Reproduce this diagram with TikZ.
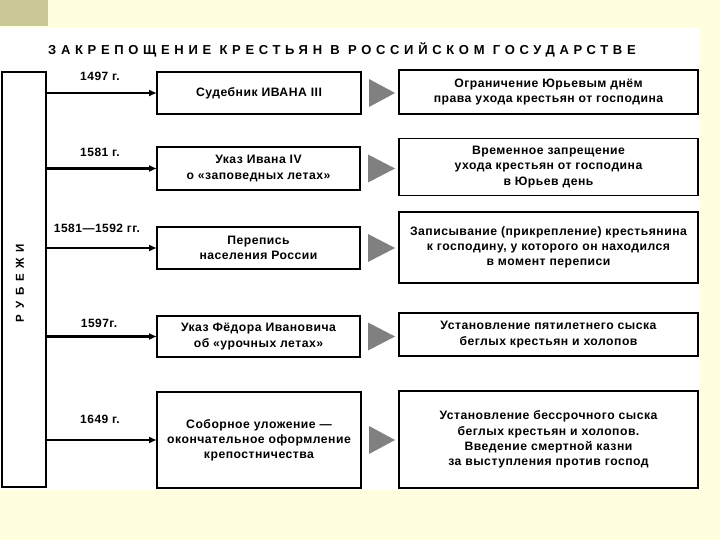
\documentclass[tikz,border=0pt]{standalone}
\usepackage{fontspec}
\setmainfont{Liberation Sans}
\newfontfamily\boxfont{Liberation Sans}[LetterSpace=4]
\newfontfamily\titlefont{Liberation Sans}[LetterSpace=36]
\newfontfamily\rubfont{Liberation Sans}[LetterSpace=50]
\usetikzlibrary{arrows.meta,calc}
\definecolor{bgyellow}{RGB}{255,255,224}
\definecolor{sqolive}{RGB}{201,200,150}
\definecolor{trigray}{RGB}{128,128,128}
\tikzset{
  box/.style={draw, line width=1.8pt, outer sep=0pt, inner sep=0pt, align=center, fill=white,
    font=\boxfont\bfseries\fontsize{12.2}{15.2}\selectfont},
  year/.style={font=\boxfont\bfseries\fontsize{12}{14}\selectfont, inner sep=0pt},
  arr/.style={line width=2.6pt, -{Latex[length=8pt,width=7pt]}},
  tri/.style={fill=trigray, draw=none}
}
\begin{document}
\begin{tikzpicture}[x=1pt,y=-1pt]
\useasboundingbox (0,0) rectangle (720,540);
\fill[bgyellow] (0,0) rectangle (720,540);
\fill[sqolive] (0,0) rectangle (48,26);
\fill[white] (0,28) rectangle (700,490);

\node[anchor=west, inner sep=0pt, font=\titlefont\bfseries\fontsize{13}{15}\selectfont] (title) at (48,50) {ЗАКРЕПОЩЕНИЕ КРЕСТЬЯН В РОССИЙСКОМ ГОСУДАРСТВЕ};

\node[box, minimum width=44, minimum height=415] (lb) at (24,279.5) {};
\node[rotate=90, inner sep=0pt, font=\rubfont\bfseries\fontsize{11.5}{13}\selectfont] (rub) at (20,283) {РУБЕЖИ};

% middle boxes
\node[box, minimum width=204, minimum height=42] (m1) at (259,93) {Судебник ИВАНА III};
\node[box, minimum width=203, minimum height=43] (m2) at (258.5,168.5) {Указ Ивана IV\\о «заповедных летах»};
\node[box, minimum width=203, minimum height=42] (m3) at (258.5,248) {Перепись\\населения России};
\node[box, minimum width=203, minimum height=41] (m4) at (258.5,336.5) {Указ Фёдора Ивановича\\об «урочных летах»};
\node[box, minimum width=204, minimum height=96] (m5) at (259,440) {Соборное уложение —\\окончательное оформление\\крепостничества};

% right boxes
\node[box, minimum width=299, minimum height=44] (r1) at (548.5,92) {Ограничение Юрьевым днём\\права ухода крестьян от господина};
\node[box, minimum width=299, minimum height=57] (r2) at (548.5,167) {Временное запрещение\\ухода крестьян от господина\\в Юрьев день};
\node[box, minimum width=299, minimum height=71] (r3) at (548.5,247.5) {Записывание (прикрепление) крестьянина\\к господину, у которого он находился\\в момент переписи};
\node[box, minimum width=299, minimum height=43] (r4) at (548.5,334.5) {Установление пятилетнего сыска\\беглых крестьян и холопов};
\node[box, minimum width=299, minimum height=97] (r5) at (548.5,439.5) {Установление бессрочного сыска\\беглых крестьян и холопов.\\Введение смертной казни\\за выступления против господ};

% years
\node[year] (y1) at (100,76) {1497 г.};
\node[year] (y2) at (100,152) {1581 г.};
\node[year] (y3) at (97,228) {1581—1592 гг.};
\node[year] (y4) at (99,323) {1597г.};
\node[year] (y5) at (100,419) {1649 г.};

% arrows
\foreach \i in {1,...,5} {
  \draw[arr] (lb.east |- m\i) -- (m\i.west);
  \fill[tri] ($(m\i.east)+(8,-14)$) -- ($(m\i.east)+(8,14)$) -- ($(r\i.west |- m\i.east)+(-4,0)$) -- cycle;
}
\end{tikzpicture}
\end{document}
